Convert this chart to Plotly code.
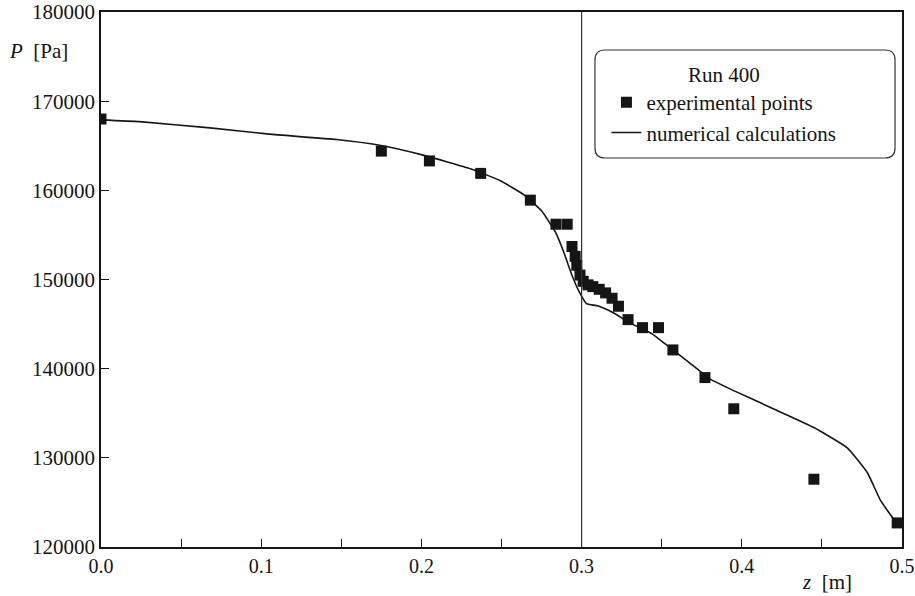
import plotly.graph_objects as go

# Experimental points (z [m], P [Pa])
exp_z = [0.0, 0.175, 0.205, 0.237, 0.268, 0.284, 0.291, 0.294, 0.296, 0.297,
         0.299, 0.301, 0.304, 0.307, 0.311, 0.315, 0.319, 0.323, 0.329, 0.338,
         0.348, 0.357, 0.377, 0.395, 0.445, 0.497]
exp_p = [168000, 164400, 163300, 161900, 158900, 156200, 156200, 153700, 152600, 151600,
         150500, 149800, 149400, 149200, 148900, 148500, 147900, 147000, 145500, 144600,
         144600, 142100, 139000, 135500, 127600, 122700]

# Numerical calculations
num_z = [0.0, 0.024, 0.068, 0.105, 0.147, 0.174, 0.201, 0.231, 0.249, 0.264,
         0.275, 0.284, 0.289, 0.2935, 0.298, 0.303, 0.310, 0.3195, 0.329, 0.344,
         0.352, 0.366, 0.3805, 0.396, 0.421, 0.445, 0.466, 0.4785, 0.4865, 0.4945, 0.4975]
num_p = [167900, 167700, 167000, 166300, 165700, 165050, 163950, 162400, 161100, 159500,
         157700, 155200, 153000, 150700, 148800, 147300, 147050, 146300, 145250, 143900,
         142800, 140850, 138800, 137450, 135400, 133400, 131100, 128300, 125250, 123200, 122600]

x_ticks = [0.0, 0.1, 0.2, 0.3, 0.4, 0.5]
x_labels = ["0.0", "0.1", "0.2", "0.3", "0.4", "0.5"]
y_ticks = [120000, 130000, 140000, 150000, 160000, 170000, 180000]
y_labels = ["120000", "130000", "140000", "150000", "160000", "170000", "180000"]

FONT = "Liberation Serif"
INK = "#151515"

fig = go.Figure()
fig.add_trace(go.Scatter(
    x=exp_z, y=exp_p, mode="markers", name="experimental points",
    marker=dict(symbol="square", size=11, color=INK, line=dict(width=0)),
))
fig.add_trace(go.Scatter(
    x=num_z, y=num_p, mode="lines", name="numerical calculations",
    line=dict(color=INK, width=1.6, shape="spline", smoothing=0.4),
))

# vertical line at z = 0.3
fig.add_shape(type="line", xref="x", yref="paper", x0=0.3, x1=0.3, y0=0, y1=1,
              line=dict(color="#333333", width=1.2))

# rounded legend box
x0, x1, y0, y1 = 0.6167, 0.9913, 0.7271, 0.929
rx, ry = 0.0125, 0.0187
path = (f"M {x0+rx},{y0} L {x1-rx},{y0} Q {x1},{y0} {x1},{y0+ry} "
        f"L {x1},{y1-ry} Q {x1},{y1} {x1-rx},{y1} L {x0+rx},{y1} "
        f"Q {x0},{y1} {x0},{y1-ry} L {x0},{y0+ry} Q {x0},{y0} {x0+rx},{y0} Z")
fig.add_shape(type="path", xref="paper", yref="paper", path=path,
              line=dict(color="#333333", width=1.2), fillcolor="rgba(0,0,0,0)")

fig.add_annotation(xref="paper", yref="paper", x=-0.1174, y=0.927, xanchor="left",
                   yanchor="middle", showarrow=False,
                   text="<i>P</i>  [Pa]", font=dict(family=FONT, size=21, color=INK))
fig.add_annotation(xref="paper", yref="paper", x=0.8727, y=-0.0654, xanchor="left",
                   yanchor="middle", showarrow=False,
                   text="<i>z</i>  [m]", font=dict(family=FONT, size=21, color=INK))

fig.update_layout(
    width=915, height=596,
    margin=dict(l=101, r=13, t=12, b=49, autoexpand=False),
    paper_bgcolor="white", plot_bgcolor="white",
    font=dict(family=FONT, size=20, color=INK),
    showlegend=True,
    legend=dict(
        x=0.631, y=0.92, xanchor="left", yanchor="top",
        bgcolor="rgba(0,0,0,0)", borderwidth=0,
        font=dict(family=FONT, size=21, color=INK),
        title=dict(text="Run 400", side="top center",
                   font=dict(family=FONT, size=21, color=INK)),
        itemwidth=30, tracegroupgap=0,
    ),
    xaxis=dict(
        range=[0, 0.5], tickvals=x_ticks, ticktext=x_labels, automargin=False,
        ticks="inside", ticklen=8, tickwidth=1.2, tickcolor=INK,
        minor=dict(dtick=0.05, ticks="inside", ticklen=8, tickwidth=1.2, tickcolor=INK),
        showline=True, linecolor=INK, linewidth=1.5, mirror=True,
        showgrid=False, zeroline=False,
        tickfont=dict(family=FONT, size=20, color=INK),
    ),
    yaxis=dict(
        range=[120000, 180000], tickvals=y_ticks, ticktext=y_labels, automargin=False,
        ticks="inside", ticklen=8, tickwidth=1.2, tickcolor=INK,
        showline=True, linecolor=INK, linewidth=1.5, mirror=True,
        showgrid=False, zeroline=False,
        tickfont=dict(family=FONT, size=21, color=INK),
    ),
)

fig.write_html("out.html")
